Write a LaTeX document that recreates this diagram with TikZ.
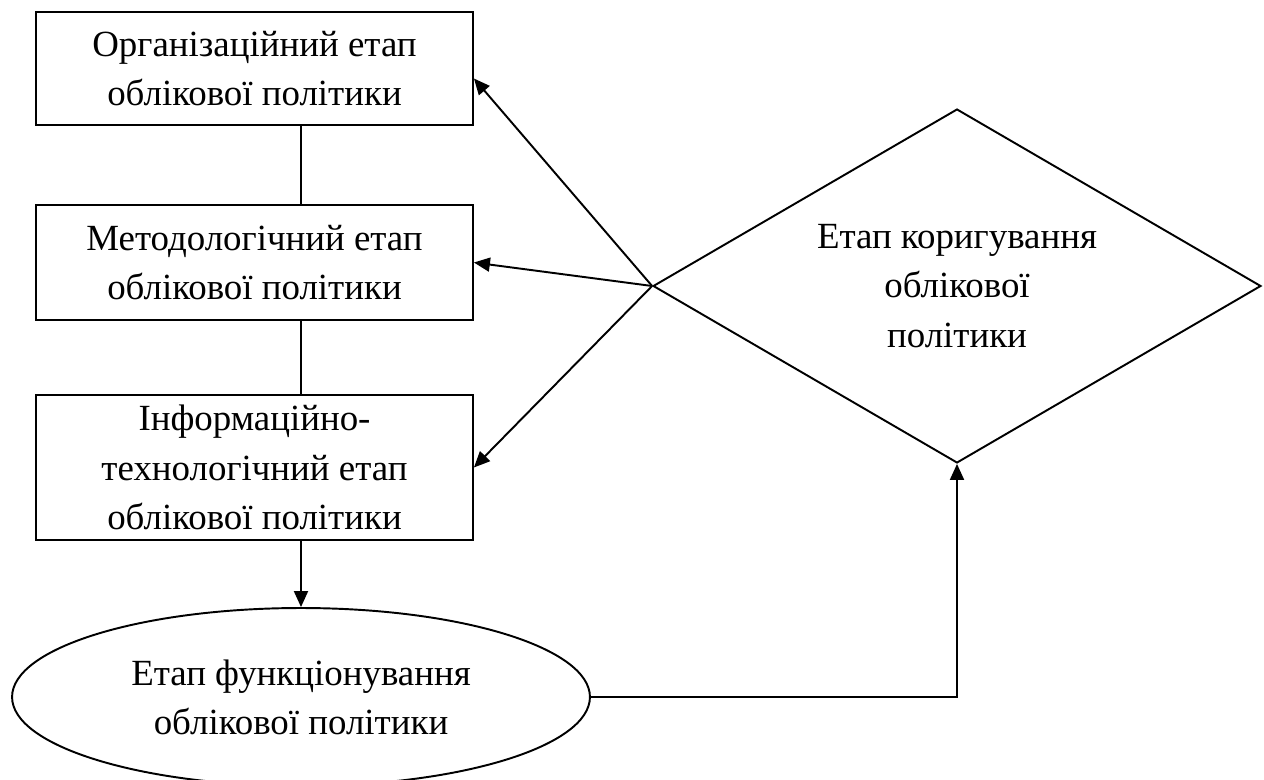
\documentclass[tikz,border=0pt]{standalone}
\usepackage{fontspec}
\setmainfont{Liberation Serif}
\usetikzlibrary{shapes.geometric,arrows.meta}
\tikzset{
	etap/.style={draw,line width=1.1pt,minimum width=8.74cm,align=center,inner sep=0pt,font=\fontsize{21}{28}\selectfont},
	strilka/.style={line width=1.1pt,-{Triangle[length=0.32cm,width=0.28cm]}},
	liniya/.style={line width=1.1pt}
}
\begin{document}
\begin{tikzpicture}[x=0.02cm,y=-0.02cm]
	\useasboundingbox (0,0) rectangle (1264,780);
	
	%Етапи
	\node[etap,minimum height=2.26cm] (org) at (254.5,68.5) {Організаційний етап\\облікової політики};
	\node[etap,minimum height=2.3cm] (met) at (254.5,262.5) {Методологічний етап\\облікової політики};
	\node[etap,minimum height=2.9cm] (inf) at (254.5,467.5) {Інформаційно-\\технологічний етап\\облікової політики};
	
	%Функціонування
	\node[etap,ellipse,minimum width=11.56cm,minimum height=3.56cm] (fun) at (301,697) {Етап функціонування\\облікової політики};
	
	%Коригування
	\node[etap,diamond,aspect=1.72,minimum width=12.16cm,minimum height=7.08cm] (kor) at (957,286) {Етап коригування\\облікової\\політики};
	
	%---------------зв'язки
	\draw[liniya] (org.south -| fun.north) -- (met.north -| fun.north);
	\draw[liniya] (met.south -| fun.north) -- (inf.north -| fun.north);
	\draw[strilka] (inf.south -| fun.north) -- (fun.north);
	\draw[strilka] (kor.west) -- ([yshift=-0.2cm]org.east);
	\draw[strilka] (kor.west) -- (met.east);
	\draw[strilka] (kor.west) -- (inf.east);
	\draw[strilka] (fun.east) -| (kor.south);
\end{tikzpicture}
\end{document}
